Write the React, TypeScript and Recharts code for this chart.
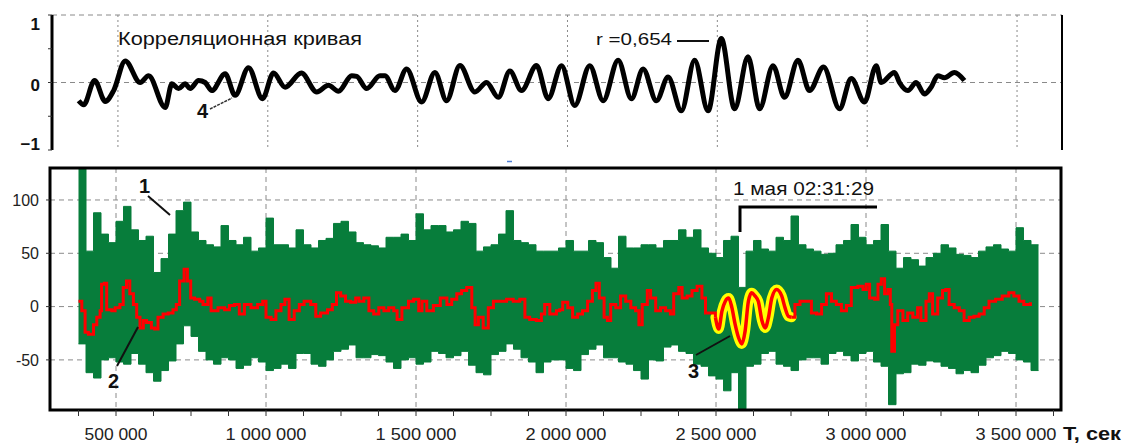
import React from 'react';
import { ComposedChart, Line, Area, XAxis, YAxis, CartesianGrid, ReferenceLine, ReferenceArea } from 'recharts';

const FONT = '"Liberation Sans", Arial, sans-serif';
const X_DOMAIN: [number, number] = [280000, 3650000];
const majorXTicks = [500000, 1000000, 1500000, 2000000, 2500000, 3000000, 3500000];
const minorXTicks = [375000, 500000, 625000, 750000, 875000, 1000000, 1125000, 1250000, 1375000, 1500000, 1625000, 1750000, 1875000, 2000000, 2125000, 2250000, 2375000, 2500000, 2625000, 2750000, 2875000, 3000000, 3125000, 3250000, 3375000, 3500000, 3625000];
const topYTicks = [-1, -0.5, 0, 0.5, 1];
const bottomYTicks = [-50, 0, 50, 100];

// Curve 4: correlation curve
const corrX = [369000, 385700, 422300, 457700, 485700, 524300, 574300, 602300, 657700, 680000,
  702300, 724300, 741000, 769000, 791000, 813300, 857700, 891000, 935700, 982300,
  1019000, 1057700, 1112000, 1163300, 1202300, 1235700, 1280000, 1296700, 1330000, 1374300,
  1391000, 1424300, 1463300, 1513300, 1557700, 1596700, 1641000, 1691000, 1730000, 1769000,
  1807700, 1846700, 1896700, 1935700, 1980000, 2024300, 2074300, 2119000, 2169000, 2213300,
  2252300, 2296700, 2335700, 2380000, 2424300, 2469000, 2513300, 2557700, 2602300, 2641000,
  2685700, 2724300, 2769000, 2807700, 2854300, 2907700, 2946700, 2991000, 3030000, 3046700,
  3091000, 3107700, 3135700, 3163300, 3191000, 3213300, 3235700, 3257700, 3291000, 3324300];
const corrY = [-0.27, -0.33, 0.03, -0.28, -0.12, 0.32, 0.0, 0.1, -0.37, -0.02,
  -0.09, -0.02, -0.09, 0.03, 0.0, -0.12, 0.13, -0.19, 0.22, -0.24,
  0.14, -0.07, 0.14, -0.14, -0.04, -0.13, 0.1, 0.09, -0.09, 0.1,
  0.1, -0.12, 0.2, -0.29, 0.15, -0.27, 0.25, -0.14, 0.0, -0.22,
  0.17, -0.12, 0.25, -0.24, 0.25, -0.34, 0.25, -0.27, 0.33, -0.24,
  0.2, -0.27, 0.08, -0.42, 0.33, -0.42, 0.65, -0.39, 0.38, -0.39,
  0.25, -0.22, 0.33, -0.12, 0.23, -0.39, 0.06, -0.29, 0.25, 0.0,
  0.15, 0.0, -0.12, 0.0, -0.17, -0.07, 0.1, 0.07, 0.15, 0.03];

// Curve 1: raw signal envelope (sampled every 25 000 s from 375 000 s)
const GREEN_START = 375000;
const GREEN_STEP = 25000;
const greenHigh = [130, 52, 88, 68, 60, 80, 94, 72, 62, 66, 32, 45, 68, 90, 98, 70, 62, 58, 56, 76,
  62, 58, 65, 52, 55, 83, 58, 58, 55, 72, 58, 55, 62, 64, 78, 80, 70, 60, 58, 57,
  55, 65, 65, 68, 62, 87, 72, 76, 76, 70, 72, 80, 78, 52, 56, 58, 68, 90, 62, 60,
  58, 52, 52, 52, 55,
  62, 52, 52, 62, 60, 46, 36, 66, 55, 55, 58, 58, 55, 62, 62, 72, 65, 72, 55, 50,
  46, 62, 66, 18, 52, 62, 54, 52, 65, 62, 85, 58, 54, 52, 49, 50, 58, 62, 77, 65,
  58, 62, 77, 52, 36, 46, 44, 38, 46, 50, 58, 55, 49, 48, 46, 52, 56, 58, 54, 52,
  74, 62, 58];
const greenLow = [-35, -62, -67, -50, -48, -52, -54, -44, -54, -62, -70, -60, -51, -35, -18, -28, -42, -50, -54, -48,
  -50, -58, -55, -48, -52, -60, -58, -54, -58, -44, -44, -54, -56, -50, -42, -40, -36, -48, -48, -45,
  -46, -52, -58, -50, -48, -54, -52, -42, -44, -48, -46, -42, -55, -62, -64, -45, -42, -35, -40, -48,
  -52, -62, -52, -50, -50,
  -58, -60, -45, -40, -36, -48, -48, -52, -54, -60, -68, -50, -51, -38, -36, -42, -44, -54, -56, -65,
  -68, -79, -62, -96, -56, -54, -44, -42, -54, -56, -60, -50, -48, -48, -54, -44, -42, -46, -51, -44,
  -42, -52, -56, -92, -63, -62, -54, -55, -51, -52, -56, -58, -63, -60, -62, -55, -48, -46, -42, -44,
  -50, -52, -60];

// Curve 2: smoothed signal
const redX = [375000, 386000, 397000, 408000, 425000, 436000, 447000, 452000, 461000, 469000,
  486000, 497000, 513000, 524000, 535000, 546000, 558000, 569000, 580000, 591000,
  602000, 618000, 629000, 640000, 657000, 674000, 690000, 701000, 712000, 727000,
  738000, 749000, 762000, 779000, 790000, 806000, 817000, 840000, 862000, 878000,
  895000, 911000, 928000, 950000, 972000, 989000, 1000000, 1017000, 1033000, 1050000,
  1063000, 1077000, 1094000, 1111000, 1127000, 1149000, 1166000, 1182000, 1205000, 1221000,
  1235000, 1249000, 1265000, 1282000, 1299000, 1310000, 1326000, 1343000, 1359000, 1376000,
  1393000, 1409000, 1426000, 1437000, 1453000, 1475000, 1492000, 1509000, 1520000, 1536000,
  1558000, 1581000, 1603000, 1619000, 1636000, 1652000, 1669000, 1686000, 1697000, 1708000,
  1724000, 1741000, 1758000, 1780000, 1802000, 1824000, 1846000, 1863000, 1879000, 1901000,
  1918000, 1929000, 1946000, 1968000, 1979000,
  1989000, 2006000, 2022000, 2039000, 2055000, 2072000, 2088000, 2100000, 2111000, 2127000,
  2138000, 2149000, 2166000, 2182000, 2199000, 2216000, 2232000, 2243000, 2254000, 2271000,
  2282000, 2299000, 2315000, 2332000, 2348000, 2359000, 2376000, 2387000, 2404000, 2420000,
  2437000, 2453000, 2465000, 2481000, 2498000, 2509000, 2520000, 2531000, 2542000, 2553000,
  2564000, 2575000, 2586000, 2597000, 2608000, 2619000, 2630000, 2641000, 2653000, 2664000,
  2675000, 2686000, 2702000, 2719000, 2730000, 2741000, 2752000, 2763000, 2780000, 2802000,
  2818000, 2835000, 2852000, 2868000, 2885000, 2901000, 2918000, 2935000, 2951000, 2973000,
  2990000, 3001000, 3012000, 3029000, 3040000, 3051000, 3062000, 3073000, 3081000, 3086000,
  3095000, 3106000, 3123000, 3139000, 3156000, 3172000, 3183000, 3200000, 3211000, 3222000,
  3239000, 3255000, 3266000, 3277000, 3294000, 3311000, 3327000, 3344000, 3360000, 3377000,
  3394000, 3410000, 3432000, 3454000, 3476000, 3493000, 3510000, 3526000, 3548000];
const redY = [5, -4, -24, -26, -17, -10, -4, 21, 22, -3,
  -4, -1, 2, 18, 24, 12, 2, -10, -20, -13,
  -15, -20, -21, -10, -7, -6, -3, 2, 24, 35,
  24, 8, 7, 5, 2, 8, -4, -1, -3, 1,
  2, -7, 2, -1, 2, 5, -10, -12, -4, 2,
  7, -12, -4, 2, 5, 2, -9, -6, -3, 2,
  13, 10, 5, 4, 8, 5, 8, -4, -7, -1,
  -4, -1, -4, -12, -1, 5, 7, -4, 5, -4,
  1, 8, 2, 7, 12, 15, 18, -1, -17, -10,
  -20, -1, 5, 5, 7, 5, 7, -10, -12, -13,
  -7, 2, -7, -4, -3,
  4, -1, -10, -7, -4, 5, 15, 22, 8, -10,
  -13, 2, -1, 10, 5, -1, -4, -17, 2, 15,
  8, -4, -1, -4, -7, 12, 18, 8, 10, 15,
  19, 8, -6, -6, -10, -21, -4, 5, 8, -1,
  -17, -29, -35, -23, 5, 13, 10, 5, -13, -20,
  -10, 8, 16, 10, -1, -9, -10, 2, 5, 5,
  -6, -7, 2, 12, 5, 2, -4, 1, 18, 19,
  16, 21, 8, 7, 21, 26, 12, 16, 2, -42,
  -17, -4, -13, -6, -10, -1, -13, 5, 12, -7,
  8, 15, 16, 2, -1, -4, -13, -10, -9, -7,
  -1, 5, 7, 10, 13, 10, 5, 2, 4];

// Curve 3: highlighted segment
const HIGHLIGHT_RANGE: [number, number] = [2498000, 2752000];

const corrData = corrX.map((x, i) => ({ x, r: corrY[i] }));
const greenData = greenHigh.map((h, i) => ({ x: GREEN_START + i * GREEN_STEP, range: [greenLow[i], h] }));
// closing sample so the last step has its width
greenData.push({ x: GREEN_START + greenHigh.length * GREEN_STEP, range: [greenLow[greenLow.length - 1], greenHigh[greenHigh.length - 1]] });
const redData = redX.map((x, i) => ({ x, y: redY[i] }));
const redBefore = redData.filter((d) => d.x <= HIGHLIGHT_RANGE[0]);
const redAfter = redData.filter((d) => d.x >= HIGHLIGHT_RANGE[1]);
const highlightData = redData.filter((d) => d.x >= HIGHLIGHT_RANGE[0] && d.x <= HIGHLIGHT_RANGE[1]);

const fmt = (v: number) => String(v).replace(/\B(?=(\d{3})+(?!\d))/g, ' ');

const TopTick = (props: any) => {
  const { x, y, payload } = props;
  const v = payload.value;
  if (v !== 1 && v !== 0 && v !== -1) return <g />;
  const label = v === -1 ? '\u22121' : String(v);
  const dy = v === 1 ? 15 : v === 0 ? 8 : 0;
  return (
    <text x={x} y={y + dy} textAnchor="end" fontFamily={FONT} fontWeight="bold" fontSize={17} fill="#111">
      {label}
    </text>
  );
};

const BottomXTick = (props: any) => {
  const { x, y, payload } = props;
  const v = payload.value;
  if (!majorXTicks.includes(v)) return <g />;
  const label = fmt(v);
  return (
    <text x={x} y={y + 22} textAnchor="middle" fontFamily={FONT} fontSize={17} fill="#222"
      textLength={label.length * 9} lengthAdjust="spacingAndGlyphs">
      {label}
    </text>
  );
};

export default function App() {
  return (
    <div style={{ position: 'absolute', left: 0, top: 0, width: 1127, height: 443, background: '#fff', fontFamily: FONT }}>
      <div style={{ position: 'absolute', left: 0, top: 0 }}>
        <ComposedChart width={1127} height={160} data={corrData} margin={{ top: 15, right: 65, bottom: 10, left: 0 }}>
          <CartesianGrid horizontal={true} vertical={false} horizontalValues={[0, 1]} stroke="#8a8a8a" strokeDasharray="5 4" />
          <CartesianGrid horizontal={false} vertical={true} verticalValues={majorXTicks} stroke="#8a8a8a" strokeDasharray="2 3" />
          <XAxis type="number" dataKey="x" domain={X_DOMAIN} hide allowDataOverflow />
          <YAxis type="number" domain={[-1, 1]} ticks={topYTicks} width={52} interval={0}
            axisLine={{ stroke: '#000', strokeWidth: 3 }} tickLine={{ stroke: '#333' }} tickSize={4} tickMargin={8}
            tick={TopTick} allowDataOverflow />
          <ReferenceLine x={X_DOMAIN[1]} stroke="#000" strokeWidth={2} />
          <Line dataKey="r" stroke="#000" strokeWidth={5} type="monotone" dot={false} isAnimationActive={false} strokeLinejoin="round" />
        </ComposedChart>
      </div>
      <div style={{ position: 'absolute', left: 0, top: 160 }}>
        <ComposedChart width={1127} height={283} margin={{ top: 8, right: 66, bottom: 0, left: 0 }}>
          <CartesianGrid horizontalValues={bottomYTicks} verticalValues={majorXTicks} stroke="#8a8a8a" strokeDasharray="5 4" />
          <XAxis type="number" dataKey="x" domain={X_DOMAIN} ticks={minorXTicks} interval={0} height={33}
            axisLine={false} tickLine={{ stroke: '#333' }} tickSize={6} tick={BottomXTick} allowDataOverflow />
          <YAxis type="number" domain={[-97, 130]} ticks={bottomYTicks} interval={0} width={50}
            axisLine={false} tickLine={{ stroke: '#333' }} tickSize={4} tickMargin={7}
            tick={{ fontFamily: FONT, fontSize: 16, fill: '#222' }} allowDataOverflow />
          <Area data={greenData} dataKey="range" type="stepAfter" fill="#077d3b" stroke="#077d3b" strokeWidth={1}
            fillOpacity={1} isAnimationActive={false} dot={false} activeDot={false} />
          <Line data={highlightData} dataKey="y" type="monotone" stroke="#ffff00" strokeWidth={10} dot={false}
            isAnimationActive={false} strokeLinejoin="round" strokeLinecap="round" />
          <Line data={redBefore} dataKey="y" type="stepAfter" stroke="#ff0000" strokeWidth={3} dot={false}
            isAnimationActive={false} />
          <Line data={highlightData} dataKey="y" type="monotone" stroke="#ff0000" strokeWidth={3.5} dot={false}
            isAnimationActive={false} />
          <Line data={redAfter} dataKey="y" type="stepAfter" stroke="#ff0000" strokeWidth={3} dot={false}
            isAnimationActive={false} />
          <ReferenceArea x1={X_DOMAIN[0]} x2={X_DOMAIN[1]} y1={-97} y2={130} fill="none" fillOpacity={0}
            stroke="#000" strokeWidth={3} />
        </ComposedChart>
      </div>
      <svg width={1127} height={443} style={{ position: 'absolute', left: 0, top: 0, pointerEvents: 'none' }}
        fontFamily={FONT}>
        <text x={118} y={45} fontSize={18} fill="#111" textLength={244} lengthAdjust="spacingAndGlyphs">Корреляционная  кривая</text>
        <text x={596} y={45} fontSize={17} fill="#111" textLength={76} lengthAdjust="spacingAndGlyphs">r =0,654</text>
        <line x1={677} y1={41} x2={709} y2={41} stroke="#111" strokeWidth={2} />
        <text x={197} y={118} fontSize={20} fontWeight="bold" fill="#111">4</text>
        <line x1={210} y1={109} x2={232} y2={98} stroke="#333" strokeWidth={1.5} strokeDasharray="3 1" />
        <text x={139} y={193} fontSize={20} fontWeight="bold" fill="#111">1</text>
        <line x1={148} y1={196} x2={170} y2={215} stroke="#111" strokeWidth={2} />
        <text x={108} y={388} fontSize={20} fontWeight="bold" fill="#111">2</text>
        <line x1={117} y1={366} x2={138} y2={327} stroke="#111" strokeWidth={2} />
        <text x={688} y={378} fontSize={20} fontWeight="bold" fill="#111">3</text>
        <line x1={696} y1={355} x2={730} y2={336} stroke="#111" strokeWidth={2} />
        <text x={733} y={195} fontSize={18} fill="#111" textLength={141} lengthAdjust="spacingAndGlyphs">1 мая 02:31:29</text>
        <path d="M740,232 V207 H877" stroke="#000" strokeWidth={3} fill="none" />
        <line x1={507} y1={161.5} x2={512} y2={161.5} stroke="#4f7fd6" strokeWidth={1.5} />
        <text x={1063} y={440} fontSize={18} fontWeight="bold" fill="#111" textLength={58} lengthAdjust="spacingAndGlyphs">T, сек</text>
      </svg>
    </div>
  );
}
